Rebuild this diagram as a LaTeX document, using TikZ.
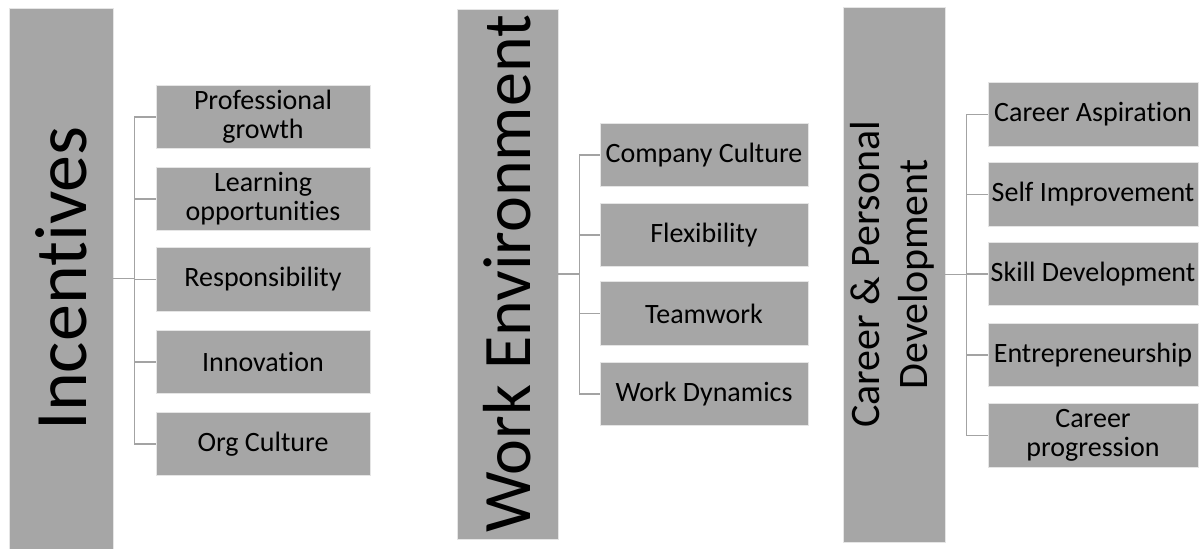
\documentclass[tikz,border=0pt]{standalone}
\usepackage{fontspec}
\setmainfont{Carlito}[Ligatures=CommonOff]
\definecolor{boxgray}{HTML}{A6A6A6}
\definecolor{linkgray}{HTML}{A3A3A3}
\begin{document}
\begin{tikzpicture}[x=0.5pt,y=-0.5pt,
  bar/.style={fill=boxgray, draw=gray!20, line width=0.3pt, inner sep=0pt},
  item/.style={fill=boxgray, draw=gray!20, line width=0.3pt, inner sep=0pt,
    minimum height=31.75pt, align=center, font=\fontsize{14}{14.5}\selectfont},
  link/.style={draw=linkgray, line width=0.6pt}]
\useasboundingbox (0,0) rectangle (1203,549);

% first column
\node[bar, minimum width=52pt, minimum height=270.5pt] (inc) at (61,278.5)
  {\rotatebox{90}{\fontsize{37}{40}\selectfont Incentives}};
\node[item, minimum width=107pt] (inc0) at (263,117){Professional\\growth};
\node[item, minimum width=107pt] (inc1) at (263,199){Learning\\opportunities};
\node[item, minimum width=107pt] (inc2) at (263,279.5){Responsibility};
\node[item, minimum width=107pt] (inc3) at (263,362){Innovation};
\node[item, minimum width=107pt] (inc4) at (263,444){Org Culture};
\draw[link] (inc.east) -- ++(21,0) |- (inc0.west);
\draw[link] (inc.east) -- ++(21,0) |- (inc1.west);
\draw[link] (inc.east) -- ++(21,0) |- (inc2.west);
\draw[link] (inc.east) -- ++(21,0) |- (inc3.west);
\draw[link] (inc.east) -- ++(21,0) |- (inc4.west);

% second column
\node[bar, minimum width=50.5pt, minimum height=265pt] (wrk) at (507.5,274)
  {\rotatebox{90}{\fontsize{34}{37}\selectfont Work Environment}};
\node[item, minimum width=104pt] (wrk0) at (704,155){Company Culture};
\node[item, minimum width=104pt] (wrk1) at (704,235){Flexibility};
\node[item, minimum width=104pt] (wrk2) at (704,313.5){Teamwork};
\node[item, minimum width=104pt] (wrk3) at (704,394){Work Dynamics};
\draw[link] (wrk.east) -- ++(21,0) |- (wrk0.west);
\draw[link] (wrk.east) -- ++(21,0) |- (wrk1.west);
\draw[link] (wrk.east) -- ++(21,0) |- (wrk2.west);
\draw[link] (wrk.east) -- ++(21,0) |- (wrk3.west);

% third column
\node[bar, minimum width=51pt, minimum height=267.5pt] (car) at (894,274.5)
  {\rotatebox{90}{\fontsize{21}{24}\selectfont
    \begin{tabular}{@{}c@{}}Career \& Personal\\Development\end{tabular}}};
\node[item, minimum width=105pt] (car0) at (1093,114.5){Career Aspiration};
\node[item, minimum width=105pt] (car1) at (1093,194.5){Self Improvement};
\node[item, minimum width=105pt] (car2) at (1093,274){Skill Development};
\node[item, minimum width=105pt] (car3) at (1093,355){Entrepreneurship};
\node[item, minimum width=105pt] (car4) at (1093,435.5){Career\\progression};
\draw[link] (car.east) -- ++(21,0) |- (car0.west);
\draw[link] (car.east) -- ++(21,0) |- (car1.west);
\draw[link] (car.east) -- ++(21,0) |- (car2.west);
\draw[link] (car.east) -- ++(21,0) |- (car3.west);
\draw[link] (car.east) -- ++(21,0) |- (car4.west);
\end{tikzpicture}
\end{document}
